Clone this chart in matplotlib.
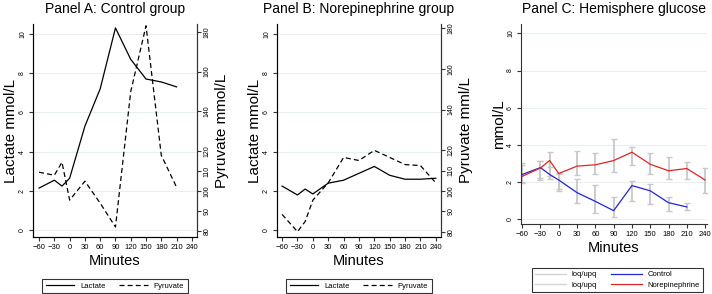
import matplotlib
matplotlib.use("Agg")
import matplotlib.pyplot as plt
from matplotlib.lines import Line2D

plt.rcParams['font.family'] = ['Liberation Sans', 'DejaVu Sans']

# Panel A: control group
a_time = [-60, -30, -15, 0, 30, 60, 90, 120, 150, 180, 210]
a_lactate = [2.15, 2.55, 2.25, 2.65, 5.3, 7.2, 10.3, 8.7, 7.7, 7.55, 7.3]
a_pyruvate = [109.5, 108, 114.5, 95.5, 105, 94, 82, 150, 183, 118, 102]

# Panel B: norepinephrine group
b_time = [-60, -30, -15, 0, 30, 60, 90, 120, 150, 180, 210, 240]
b_lactate = [2.25, 1.8, 2.1, 1.85, 2.4, 2.55, 2.9, 3.25, 2.8, 2.6, 2.6, 2.65]
b_pyruvate = [88.5, 80, 85, 95.5, 104, 116.5, 115, 120, 116.5, 113, 112.5, 104]

# Panel C: hemisphere glucose
c_ctrl_time = [-60, -30, -15, 0, 30, 60, 90, 120, 150, 180, 210]
c_ctrl = [2.4, 2.77, 2.4, 2.1, 1.42, 0.95, 0.45, 1.8, 1.52, 0.88, 0.65]
c_ctrl_lo = [1.95, 2.1, 2.15, 1.5, 0.85, 0.34, 0.09, 0.97, 0.81, 0.43, 0.49]
c_ctrl_hi = [2.9, 3.1, 2.8, 2.47, 2.17, 1.82, 1.2, 2.07, 1.89, 1.17, 0.86]
c_ne_time = [-60, -30, -15, 0, 30, 60, 90, 120, 150, 180, 210, 240]
c_ne = [2.3, 2.75, 3.15, 2.45, 2.85, 2.92, 3.15, 3.6, 2.95, 2.6, 2.72, 2.1]
c_ne_lo = [2.0, 2.2, 2.3, 1.6, 2.37, 2.41, 2.55, 2.9, 2.43, 2.14, 2.14, 1.42]
c_ne_hi = [3.0, 3.15, 3.6, 2.45, 3.65, 3.58, 4.33, 3.87, 3.55, 3.36, 3.06, 2.77]

xticks = [-60, -30, 0, 30, 60, 90, 120, 150, 180, 210, 240]
yticks = [0, 2, 4, 6, 8, 10]
pyr_ticks = [80, 90, 100, 110, 120, 140, 160, 180]

axcol = '#333333'
gridcol = '#e6eff1'

fig = plt.figure(figsize=(7.12, 2.94), dpi=100)


def style_left(ax):
    ax.set_yticks(yticks)
    ax.set_xticks(xticks)
    ax.tick_params(axis='y', labelsize=5, rotation=90, length=3, color=axcol, pad=2)
    ax.tick_params(axis='x', labelsize=5.5, length=3, color=axcol, pad=2)
    for lab in ax.get_yticklabels():
        lab.set_va('center')
    ax.yaxis.grid(True, color=gridcol, lw=0.7)
    ax.set_axisbelow(True)
    ax.spines['top'].set_visible(False)
    for s in ['left', 'bottom', 'right']:
        ax.spines[s].set_color(axcol)
        ax.spines[s].set_linewidth(0.8)
    ax.set_xlabel('Minutes', fontsize=10.5, labelpad=2)


def style_right(ax2, ylim):
    ax2.set_ylim(*ylim)
    ax2.set_yticks(pyr_ticks)
    ax2.tick_params(axis='y', labelsize=5, rotation=90, length=3, color=axcol, pad=2)
    for lab in ax2.get_yticklabels():
        lab.set_va('center')
    ax2.spines['top'].set_visible(False)
    ax2.spines['right'].set_color(axcol)
    ax2.spines['right'].set_linewidth(0.8)


def lp_legend(ax):
    h = [Line2D([], [], color='black', lw=0.9),
         Line2D([], [], color='black', lw=0.9, dashes=(4, 2.5))]
    leg = ax.legend(h, ['Lactate', 'Pyruvate'], ncol=2, loc='center',
                    bbox_to_anchor=(0.5, -0.23), fontsize=5.5, fancybox=False,
                    edgecolor='black', handlelength=3.7, handletextpad=0.8,
                    columnspacing=1.8, borderpad=0.45)
    leg.get_frame().set_linewidth(0.8)


# Panel A
axA = fig.add_axes([0.0463, 0.1939, 0.2303, 0.7245])
axA.plot(a_time, a_lactate, color='black', lw=0.9)
axA.set_xlim(-72, 250)
axA.set_ylim(-0.34, 10.5)
style_left(axA)
axA.set_ylabel('Lactate mmol/L', fontsize=11, labelpad=1)
axA.set_title('Panel A: Control group', fontsize=10, pad=8)
axA2 = axA.twinx()
axA2.plot(a_time, a_pyruvate, color='black', lw=0.9, dashes=(4, 2.5))
style_right(axA2, (77, 183.9))
axA2.set_ylabel('Pyruvate mmol/L', fontsize=11, labelpad=3)
lp_legend(axA)

# Panel B
axB = fig.add_axes([0.389, 0.1939, 0.2303, 0.7245])
axB.plot(b_time, b_lactate, color='black', lw=0.9)
axB.set_xlim(-70, 250)
axB.set_ylim(-0.34, 10.5)
style_left(axB)
axB.set_ylabel('Lactate mmol/L', fontsize=11, labelpad=1)
axB.set_title('Panel B: Norepinephrine group', fontsize=10, pad=8)
axB2 = axB.twinx()
axB2.plot(b_time, b_pyruvate, color='black', lw=0.9, dashes=(4, 2.5))
style_right(axB2, (77.4, 182.1))
axB2.set_ylabel('Pyruvate mml/L', fontsize=11, labelpad=3)
lp_legend(axB)

# Panel C
axC = fig.add_axes([0.7317, 0.238, 0.2612, 0.680])
ebc = '#c8c8c8'
axC.errorbar(c_ctrl_time, c_ctrl,
             yerr=[[m - l for m, l in zip(c_ctrl, c_ctrl_lo)],
                   [h - m for m, h in zip(c_ctrl, c_ctrl_hi)]],
             fmt='none', ecolor=ebc, elinewidth=1.3, capsize=2.5, capthick=1.0)
axC.errorbar(c_ne_time, c_ne,
             yerr=[[m - l for m, l in zip(c_ne, c_ne_lo)],
                   [h - m for m, h in zip(c_ne, c_ne_hi)]],
             fmt='none', ecolor=ebc, elinewidth=1.3, capsize=2.5, capthick=1.0)
axC.plot(c_ctrl_time, c_ctrl, color='#2323d8', lw=0.9)
axC.plot(c_ne_time, c_ne, color='#e02424', lw=0.9)
axC.set_xlim(-62, 243)
axC.set_ylim(-0.27, 10.5)
style_left(axC)
axC.spines['right'].set_visible(False)
axC.set_ylabel('mmol/L', fontsize=11, labelpad=1)
axC.set_title('Panel C: Hemisphere glucose', fontsize=10, pad=8)
hC = [Line2D([], [], color='#d4d4d4', lw=1.0),
      Line2D([], [], color='#d4d4d4', lw=1.0),
      Line2D([], [], color='#2323d8', lw=0.9),
      Line2D([], [], color='#e02424', lw=0.9)]
legC = axC.legend(hC, ['loq/upq', 'loq/upq', 'Control', 'Norepinephrine'],
                  ncol=2, loc='center', bbox_to_anchor=(0.52, -0.28),
                  fontsize=5.5, fancybox=False, edgecolor='black',
                  handlelength=4.0, handletextpad=0.8, columnspacing=1.8,
                  labelspacing=0.4, borderpad=0.45)
legC.get_frame().set_linewidth(0.8)

fig.savefig('out.png', dpi=100)
